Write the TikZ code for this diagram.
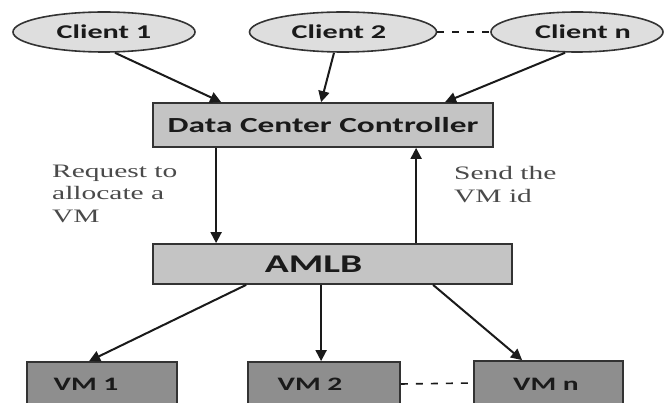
\documentclass[tikz,border=0pt]{standalone}
\usepackage{fontspec}
\usepackage{graphicx}
\setmainfont{Liberation Serif}
\newfontfamily\calfont{Carlito}
\usetikzlibrary{arrows.meta,shapes.geometric,calc}
\definecolor{ellfill}{HTML}{DEDEDE}
\definecolor{boxfill}{HTML}{C4C4C4}
\definecolor{vmfill}{HTML}{8E8E8E}
\definecolor{edge}{HTML}{333333}
\definecolor{ink}{HTML}{1A1A1A}
\definecolor{labelgray}{HTML}{4A4A4A}
\newcommand\wide[1]{\scalebox{1.55}[1]{#1}}
\tikzset{
  client/.style={ellipse, draw=edge, line width=1.6pt, fill=ellfill, inner sep=0pt,
    minimum width=#1, minimum height=40pt, text=ink,
    font=\calfont\bfseries\fontsize{19.5}{22}\selectfont},
  ctrlbox/.style={rectangle, draw=edge, line width=1.8pt, fill=boxfill, inner sep=0pt, text=ink},
  vmbox/.style={rectangle, draw=edge, line width=1.8pt, fill=vmfill, inner sep=0pt},
  vmtext/.style={text=ink, inner sep=0pt, font=\calfont\bfseries\fontsize{19}{22}\selectfont},
  flow/.style={draw=ink, line width=2pt, -{Triangle[length=11pt,width=11pt]}},
  dots/.style={draw=ink, line width=1.6pt, dash pattern=on 7pt off 8pt},
  note/.style={text=labelgray, inner sep=0pt, align=left, anchor=west,
    font=\fontsize{19}{22.5}\selectfont}
}
\begin{document}
\begin{tikzpicture}[x=1pt,y=-1pt]
\useasboundingbox (0,0) rectangle (672,403);
\clip (0,0) rectangle (672,403);
\fill[white] (0,0) rectangle (672,403);

% clients
\node[client=182pt] (c1) at (104,32) {\wide{Client 1}};
\node[client=187pt] (c2) at (343,32) {\hspace*{-8pt}\wide{Client 2}};
\node[client=172pt] (cn) at (577,32) {\hspace*{12pt}\wide{Client n}};

% controller and AMLB
\node[ctrlbox, minimum width=340pt, minimum height=44pt,
      font=\calfont\bfseries\fontsize{21.5}{24}\selectfont] (dcc) at (323,125) {\wide{Data Center Controller}};
\node[ctrlbox, minimum width=359pt, minimum height=40pt,
      font=\calfont\bfseries\fontsize{25.5}{28}\selectfont] (amlb) at (332.5,264) {\hspace*{-38pt}\wide{AMLB}};

% VMs
\node[vmbox, minimum width=150pt, minimum height=44pt] (vm1) at (102,384) {};
\node[vmbox, minimum width=152pt, minimum height=44pt] (vm2) at (324,384) {};
\node[vmbox, minimum width=149pt, minimum height=44pt] (vmn) at (548.5,383) {};
\node[vmtext] (vm1t) at (86,384) {\wide{VM 1}};
\node[vmtext] (vm2t) at (310,384) {\wide{VM 2}};
\node[vmtext] (vmnt) at (546,384) {\wide{VM n}};

% labels
\node[note] (req) at (52,193.5) {\wide{Request to}\\\wide{allocate a}\\\wide{VM}};
\node[note] (send) at (454,184.5) {\wide{Send the}\\\wide{VM id}};

% connectors
\draw[flow] ($(c1.south)+(11,0)$) -- ($(dcc.north west)+(69,0)$);
\draw[flow] ($(c2.south)+(-9,0)$) -- ($(dcc.north west)+(169,0)$);
\draw[flow] ($(cn.south)+(-12,0)$) -- ($(dcc.north west)+(293,0)$);
\draw[flow] ($(dcc.south west)+(64,0)$) -- ($(amlb.north west)+(64,0)$);
\draw[flow] ($(amlb.north west)+(264,0)$) -- ($(dcc.south west)+(264,0)$);
\draw[flow] ($(amlb.south west)+(94,0)$) -- ($(vm1.north west)+(63,0)$);
\draw[flow] ($(amlb.south west)+(169,0)$) -- ($(vm2.north west)+(74,0)$);
\draw[flow] ($(amlb.south west)+(281,0)$) -- ($(vmn.north west)+(49,0)$);

\draw[dots] (c2.east) -- (cn.west);
\draw[dots] (vm2.east) -- (vmn.west);
\end{tikzpicture}
\end{document}
